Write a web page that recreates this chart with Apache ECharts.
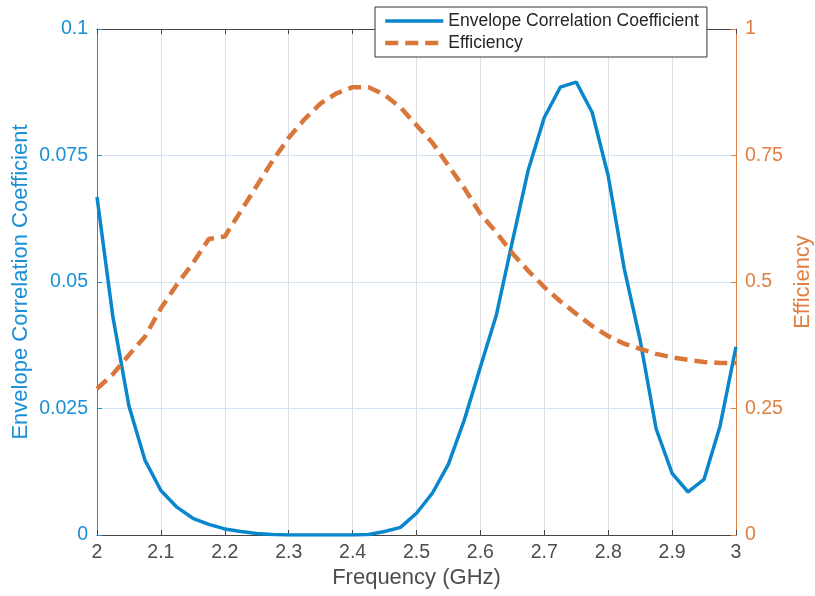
<!DOCTYPE html>
<html>
<head>
<meta charset="utf-8">
<script src="https://cdn.jsdelivr.net/npm/echarts@6/dist/echarts.min.js"></script>
<style>
html,body{margin:0;padding:0;background:#fff;}
#c{width:815px;height:596px;}
</style>
</head>
<body>
<div id="c"></div>
<script>
// Frequency samples (GHz)
const freq = [2.000,2.025,2.050,2.075,2.100,2.125,2.150,2.175,2.200,2.225,
              2.250,2.275,2.300,2.325,2.350,2.375,2.400,2.425,2.450,2.475,
              2.500,2.525,2.550,2.575,2.600,2.625,2.650,2.675,2.700,2.725,
              2.750,2.775,2.800,2.825,2.850,2.875,2.900,2.925,2.950,2.975,3.000];
// Envelope Correlation Coefficient (left axis)
const ecc = [0.0668,0.0430,0.0255,0.0148,0.0088,0.0055,0.0033,0.0021,0.0012,0.0007,
             0.0003,0.0001,0.0000,0.0000,0.0000,0.0000,0.0000,0.0001,0.0007,0.0015,
             0.0043,0.0083,0.0140,0.0228,0.0332,0.0435,0.0580,0.0722,0.0825,0.0885,
             0.0895,0.0835,0.0710,0.0527,0.0385,0.0210,0.0122,0.0085,0.0110,0.0215,0.0372];
// Efficiency (right axis)
const eff = [0.289,0.318,0.356,0.392,0.448,0.495,0.537,0.585,0.590,0.640,
             0.690,0.740,0.785,0.822,0.853,0.873,0.885,0.885,0.870,0.845,
             0.810,0.775,0.730,0.685,0.635,0.598,0.557,0.522,0.490,0.462,
             0.437,0.413,0.393,0.378,0.368,0.358,0.351,0.346,0.342,0.340,0.340];
const leftTicks = [0, 0.025, 0.05, 0.075, 0.1];
const rightTicks = [0, 0.25, 0.5, 0.75, 1];
const seriesNames = ['Envelope Correlation Coefficient', 'Efficiency'];

const FONT = '"Liberation Sans", Arial, Helvetica, sans-serif';
const BLUE = '#0A87CC', BLUE_AX = '#1A8FD6';
const ORANGE = '#D9763A', ORANGE_AX = '#DE7F3F';
const GRAY = '#4D4D4D', AXGRAY = '#454545';

const chart = echarts.init(document.getElementById('c'), null, {renderer: 'canvas'});
const fmt = v => String(+v.toFixed(3));

chart.setOption({
  animation: false,
  backgroundColor: '#fff',
  grid: {left: 97, right: 79, top: 29, bottom: 61, containLabel: false, outerBoundsMode: 'none'},
  legend: {
    left: 375, top: 7, orient: 'vertical',
    backgroundColor: '#fff', borderColor: '#333', borderWidth: 1,
    padding: [5, 8, 5, 8],
    itemWidth: 58, itemHeight: 18, itemGap: 4,
    lineStyle: {width: 'inherit'},
    itemStyle: {opacity: 0},
    textStyle: {fontFamily: FONT, fontSize: 17.5, color: '#262626', lineHeight: 18},
    data: seriesNames
  },
  xAxis: [{
    type: 'value', min: 2, max: 3, interval: 0.1, position: 'bottom',
    name: 'Frequency (GHz)', nameLocation: 'middle', nameGap: 32, nameMoveOverlap: false,
    nameTextStyle: {fontFamily: FONT, fontSize: 22, color: GRAY},
    axisLine: {show: true, onZero: false, lineStyle: {color: AXGRAY, width: 1}},
    axisTick: {show: true, inside: true, length: 5, lineStyle: {color: AXGRAY}},
    axisLabel: {fontFamily: FONT, fontSize: 19.5, color: GRAY, margin: 8, formatter: fmt},
    splitLine: {show: true, lineStyle: {color: '#DCDFE6', width: 1}}
  }, {
    type: 'value', min: 2, max: 3, interval: 0.1, position: 'top',
    axisLine: {show: true, onZero: false, lineStyle: {color: AXGRAY, width: 1}},
    axisTick: {show: true, inside: true, length: 5, lineStyle: {color: AXGRAY}},
    axisLabel: {show: false},
    splitLine: {show: false}
  }],
  yAxis: [{
    type: 'value', min: 0, max: 0.1, interval: 0.025, position: 'left',
    name: 'Envelope Correlation Coefficient', nameLocation: 'middle', nameGap: 65, nameMoveOverlap: false,
    nameTextStyle: {fontFamily: FONT, fontSize: 22, color: BLUE_AX},
    axisLine: {show: true, onZero: false, lineStyle: {color: BLUE_AX, width: 1}},
    axisTick: {show: true, inside: true, length: 5, lineStyle: {color: BLUE_AX}},
    axisLabel: {fontFamily: FONT, fontSize: 19.5, color: BLUE_AX, margin: 9,
      formatter: v => { const t = leftTicks.find(x => Math.abs(x - v) < 1e-9); return t === undefined ? '' : String(t); }},
    splitLine: {show: true, lineStyle: {color: '#D2E4F3', width: 1}}
  }, {
    type: 'value', min: 0, max: 1, interval: 0.25, position: 'right',
    name: 'Efficiency', nameLocation: 'middle', nameGap: 56, nameMoveOverlap: false,
    nameTextStyle: {fontFamily: FONT, fontSize: 22, color: ORANGE_AX},
    axisLine: {show: true, onZero: false, lineStyle: {color: ORANGE_AX, width: 1}},
    axisTick: {show: true, inside: true, length: 5, lineStyle: {color: ORANGE_AX}},
    axisLabel: {fontFamily: FONT, fontSize: 19.5, color: ORANGE_AX, margin: 9,
      formatter: v => { const t = rightTicks.find(x => Math.abs(x - v) < 1e-9); return t === undefined ? '' : String(t); }},
    splitLine: {show: false}
  }],
  series: [{
    name: seriesNames[0], type: 'line', xAxisIndex: 0, yAxisIndex: 0,
    showSymbol: false, symbol: 'circle', smooth: false,
    lineStyle: {color: BLUE, width: 3.5},
    itemStyle: {color: BLUE},
    data: freq.map((f, i) => [f, ecc[i]]),
    z: 3
  }, {
    name: seriesNames[1], type: 'line', xAxisIndex: 0, yAxisIndex: 1,
    showSymbol: false, symbol: 'circle', smooth: false,
    lineStyle: {color: ORANGE, width: 4.5, type: [13, 7], cap: 'butt'},
    itemStyle: {color: ORANGE},
    data: freq.map((f, i) => [f, eff[i]]),
    z: 4
  }]
});
</script>
</body>
</html>
